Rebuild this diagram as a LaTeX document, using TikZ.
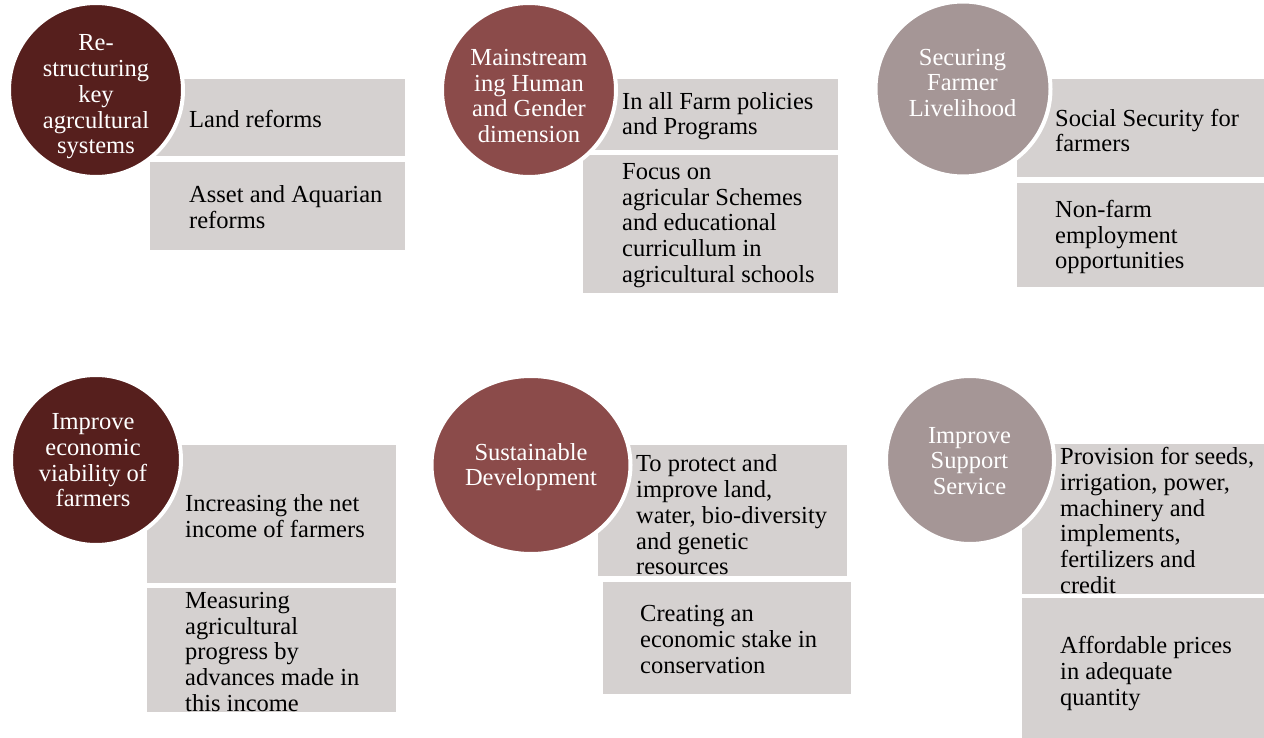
\documentclass[tikz,border=0pt]{standalone}
\usepackage{fontspec}
\setmainfont{Liberation Serif}
\usetikzlibrary{shapes.geometric}
\definecolor{cdark}{RGB}{86,31,29}
\definecolor{cmid}{RGB}{139,75,74}
\definecolor{clight}{RGB}{165,150,150}
\definecolor{cbox}{RGB}{213,209,208}
\tikzset{
  boxst/.style={fill=cbox, draw=none, anchor=north west, inner sep=0pt, outer sep=0pt},
  circst/.style={circle, draw=white, line width=4pt, inner sep=0pt},
  ellst/.style={ellipse, draw=white, line width=4pt, inner sep=0pt},
  ctext/.style={text=white, align=center, inner sep=0pt, yshift=-2pt, font=\fontsize{24.5}{25.7}\selectfont},
  btext/.style={text=black, align=left, anchor=west, inner sep=0pt, yshift=-2pt, font=\fontsize{24.5}{25.7}\selectfont}
}
\begin{document}
\begin{tikzpicture}[x=1pt,y=-1pt]
\useasboundingbox (0,0) rectangle (1264,738);
% boxes
\node[boxst, minimum width=255pt, minimum height=77pt] (b1a) at (150,79) {};
\node[boxst, minimum width=255pt, minimum height=88pt] (b1b) at (150,162) {};
\node[boxst, minimum width=255pt, minimum height=71pt] (b2a) at (583,79) {};
\node[boxst, minimum width=255pt, minimum height=138pt] (b2b) at (583,155) {};
\node[boxst, minimum width=247pt, minimum height=98pt] (b3a) at (1017,79) {};
\node[boxst, minimum width=247pt, minimum height=104pt] (b3b) at (1017,183) {};
\node[boxst, minimum width=249pt, minimum height=138pt] (b4a) at (147,445) {};
\node[boxst, minimum width=249pt, minimum height=124pt] (b4b) at (147,588) {};
\node[boxst, minimum width=249pt, minimum height=131pt] (b5a) at (598,445) {};
\node[boxst, minimum width=248pt, minimum height=112pt] (b5b) at (603,582) {};
\node[boxst, minimum width=242pt, minimum height=150pt] (b6a) at (1022,444) {};
\node[boxst, minimum width=242pt, minimum height=140pt] (b6b) at (1022,598) {};
% circles
\node[circst, fill=cdark, minimum size=174pt] (c1) at (96,90) {};
\node[circst, fill=cmid, minimum size=174pt] (c2) at (529,90) {};
\node[circst, fill=clight, minimum size=175pt] (c3) at (963,89) {};
\node[circst, fill=cdark, minimum size=170pt] (c4) at (96,460) {};
\node[ellst, fill=cmid, minimum width=199pt, minimum height=178pt] (c5) at (531,465) {};
\node[circst, fill=clight, minimum size=168pt] (c6) at (970,460) {};
% circle texts
\node[ctext] (t1) at (96,95) {Re-\\structuring\\key\\agrcultural\\systems};
\node[ctext] (t2) at (529,94) {Mainstream\\ing Human\\and Gender\\dimension};
\node[ctext] (t3) at (962.5,81) {Securing\\Farmer\\Livelihood};
\node[ctext] (t4) at (93,458.5) {Improve\\economic\\viability of\\farmers};
\node[ctext] (t5) at (531,465) {Sustainable\\Development};
\node[ctext] (t6) at (969.5,459) {Improve\\Support\\Service};
% box texts
\node[btext] (s1a) at (189,117) {Land reforms};
\node[btext] (s1b) at (189,205) {Asset and Aquarian\\reforms};
\node[btext] (s2a) at (622,114) {In all Farm policies\\and Programs};
\node[btext] (s2b) at (622,223.5) {Focus on\\agricular Schemes\\and educational\\curricullum in\\agricultural schools};
\node[btext] (s3a) at (1055,128.5) {Social Security for\\farmers};
\node[btext] (s3b) at (1055,235) {Non-farm\\employment\\opportunities};
\node[btext] (s4a) at (185,514) {Increasing the net\\income of farmers};
\node[btext] (s4b) at (185,650) {Measuring\\agricultural\\progress by\\advances made in\\this income};
\node[btext] (s5a) at (636,513) {To protect and\\improve land,\\water, bio-diversity\\and genetic\\resources};
\node[btext] (s5b) at (640,637.5) {Creating an\\economic stake in\\conservation};
\node[btext] (s6a) at (1060,518.5) {Provision for seeds,\\irrigation, power,\\machinery and\\implements,\\fertilizers and\\credit};
\node[btext] (s6b) at (1060,671.5) {Affordable prices\\in adequate\\quantity};
\end{tikzpicture}
\end{document}
